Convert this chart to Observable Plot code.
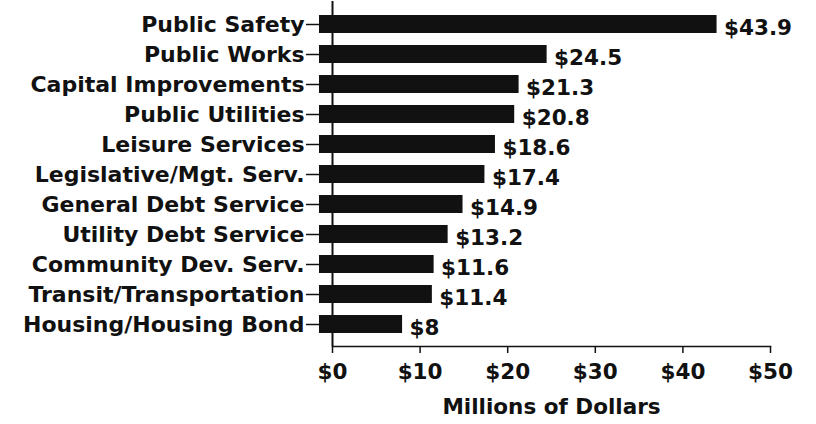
<!DOCTYPE html>
<html><head><meta charset="utf-8">
<script src="https://cdn.jsdelivr.net/npm/d3@7"></script>
<script src="https://cdn.jsdelivr.net/npm/@observablehq/plot@0.6"></script>
<style>
html,body{margin:0;padding:0;background:#fff;}
svg{font-family:"DejaVu Sans",sans-serif;font-weight:bold;}
</style>
</head><body><div id="chart"></div>
<script>
const categories = ["Public Safety","Public Works","Capital Improvements","Public Utilities","Leisure Services","Legislative/Mgt. Serv.","General Debt Service","Utility Debt Service","Community Dev. Serv.","Transit/Transportation","Housing/Housing Bond"];
const values = [43.9, 24.5, 21.3, 20.8, 18.6, 17.4, 14.9, 13.2, 11.6, 11.4, 8];
const xTicks = [0, 10, 20, 30, 40, 50];
const axisTitle = "Millions of Dollars";

const data = categories.map((c, i) => ({category: c, value: values[i]}));

const chart = Plot.plot({
  width: 816, height: 424,
  marginLeft: 332, marginRight: 46, marginTop: 1, marginBottom: 78,
  style: {background: "#fff", color: "#111", fontFamily: '"DejaVu Sans", sans-serif', fontWeight: "bold"},
  x: {domain: [0, 50]},
  y: {domain: categories, padding: 0.4},
  marks: [
    Plot.axisY({tickSize: 26, tickPadding: 2, fontSize: 22, label: null, strokeWidth: 1.5}),
    Plot.axisX({ticks: xTicks, tickSize: 7, tickPadding: 10, fontSize: 21.5, tickFormat: d => "$" + d,
      label: axisTitle, labelAnchor: "center", labelOffset: 67, labelArrow: "none", strokeWidth: 1.5}),
    Plot.frame({anchor: "bottom", strokeWidth: 1.5}),
    Plot.ruleX([0], {strokeWidth: 2}),
    Plot.barX(data, {x: "value", y: "category", fill: "#111", insetLeft: -13}),
    Plot.text(data, {x: "value", y: "category", text: d => "$" + d.value, textAnchor: "start", dx: 7, dy: 4, fontSize: 21.5, fill: "#111"})
  ]
});
document.getElementById("chart").appendChild(chart);
</script>
</body></html>
